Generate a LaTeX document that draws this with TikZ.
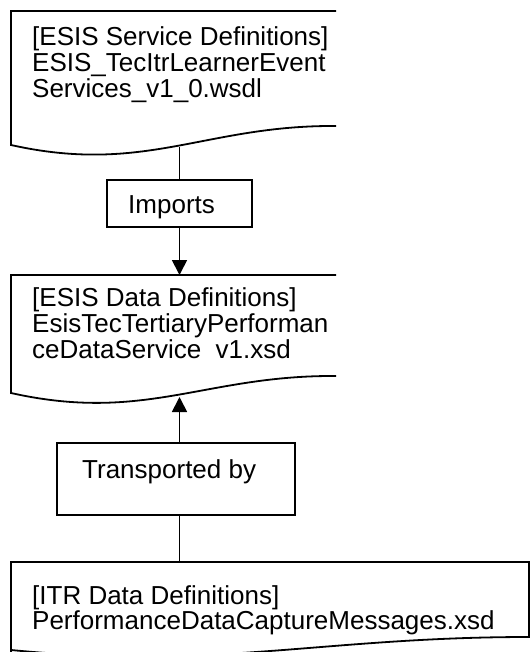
\documentclass[tikz,border=0pt]{standalone}
\usepackage{fontspec}
\setmainfont{Liberation Sans}
\usetikzlibrary{arrows.meta}
\tikzset{
  outline/.style={line width=1.8pt, line join=miter},
  conn/.style={line width=1.8pt},
  tipped/.style={-{Triangle[width=15pt,length=15pt]}},
  txt/.style={font=\fontsize{26}{27}\selectfont, inner sep=0pt, anchor=base west},
  labelbox/.style={draw, line width=1.8pt, inner sep=0pt},
}
\begin{document}
\begin{tikzpicture}[x=1pt,y=-1pt]
\useasboundingbox (0,0) rectangle (531,652);

% document shapes with wavy bottom edges (upper two open on the right)
\draw[outline] (336,11) -- (11,11) -- (11,145)
  .. controls (145,175) and (205,125) .. (336,126);
\draw[outline] (336,275) -- (11,275) -- (11,393)
  .. controls (145,423) and (205,375) .. (336,376);
\draw[outline] (11,652) -- (11,562) -- (529,562) -- (529,637)
  .. controls (322,637) and (218,670) .. (11,650);

% anchor points on the wavy edges
\coordinate (srvbot) at (179.5,147);
\coordinate (datatop) at (179.5,275);
\coordinate (databot) at (179.5,397);
\coordinate (itrtop) at (179.5,562);

% document texts
\node[txt] (s1) at (32,45.5) {[ESIS Service Definitions]};
\node[txt] (s2) at (32,71.5) {ESIS\_TecItrLearnerEvent};
\node[txt] (s3) at (32,97.5) {Services\_v1\_0.wsdl};
\node[txt] (d1) at (32,306) {[ESIS Data Definitions]};
\node[txt] (d2) at (32,332) {EsisTecTertiaryPerforman};
\node[txt] (d3) at (32,358) {ceDataService\ \ v1.xsd};
\node[txt] (i1) at (32,604) {[ITR Data Definitions]};
\node[txt] (i2) at (32,629.5) {PerformanceDataCaptureMessages.xsd};

% relation boxes
\node[labelbox, minimum width=145pt, minimum height=47pt] (imports) at (179.5,203.5) {};
\node[txt] (importslbl) at (128,213) {Imports};
\node[labelbox, minimum width=238pt, minimum height=72pt] (transp) at (176,479) {};
\node[txt] (transplbl) at (82,478) {Transported by};

% connectors
\draw[conn] (srvbot) -- (imports.north);
\draw[conn, tipped] (imports.south) -- (datatop);
\draw[conn, tipped] (transp.north -| databot) -- (databot);
\draw[conn] (transp.south -| itrtop) -- (itrtop);
\end{tikzpicture}
\end{document}
